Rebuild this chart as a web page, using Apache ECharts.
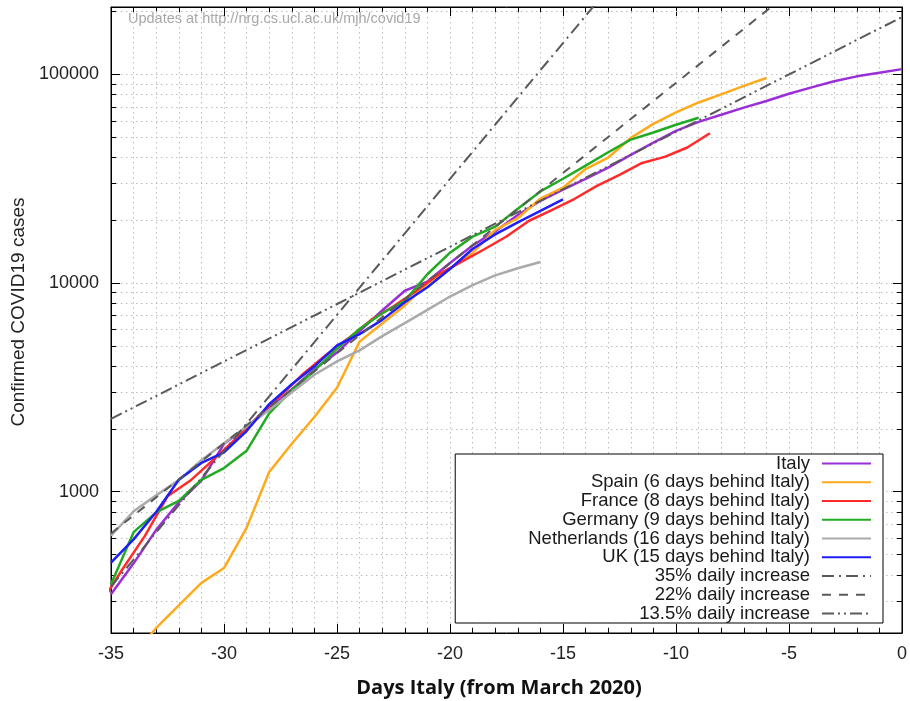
<!DOCTYPE html>
<html>
<head>
<meta charset="UTF-8" />
<title>COVID19 confirmed cases, days relative to Italy</title>
<script src="https://cdn.jsdelivr.net/npm/echarts@6/dist/echarts.min.js"></script>
<style>
html, body { margin: 0; padding: 0; background: #fff; }
</style>
</head>
<body>
<div id="chart" style="width: 910px; height: 701px;"></div>
<script>
// days relative to Italy (day 0 = end of March 2020)
var italyDays = [-35, -34, -33, -32, -31, -30, -29, -28, -27, -26, -25, -24, -23, -22, -21, -20, -19, -18, -17, -16, -15, -14, -13, -12, -11, -10, -9, -8, -7, -6, -5, -4, -3, -2, -1, 0];
var italy = [322, 453, 655, 888, 1128, 1694, 2036, 2502, 3089, 3858, 4636, 5883, 7375, 9172, 10149, 12462, 15113, 17660, 21157, 24747, 27980, 31506, 35713, 41035, 47021, 53578, 59138, 63927, 69176, 74386, 80589, 86498, 92472, 97689, 101739, 105792];

var spainDays = [-35, -34, -33, -32, -31, -30, -29, -28, -27, -26, -25, -24, -23, -22, -21, -20, -19, -18, -17, -16, -15, -14, -13, -12, -11, -10, -9, -8, -7, -6];
var spain = [120, 165, 222, 285, 365, 430, 670, 1240, 1695, 2277, 3146, 5232, 6391, 7798, 9942, 11748, 13910, 17963, 20410, 25374, 28603, 35136, 39885, 49515, 57786, 65719, 73235, 80110, 87956, 95923];

var franceDays = [-35.5, -34.5, -33.5, -32.5, -31.5, -30.5, -29.5, -28.5, -27.5, -26.5, -25.5, -24.5, -23.5, -22.5, -21.5, -20.5, -19.5, -18.5, -17.5, -16.5, -15.5, -14.5, -13.5, -12.5, -11.5, -10.5, -9.5, -8.5];
var france = [285, 423, 613, 949, 1126, 1412, 1784, 2281, 2876, 3661, 4499, 5423, 6633, 7730, 9134, 10995, 12612, 14459, 16689, 19856, 22302, 25233, 29155, 32964, 37575, 40174, 44550, 52128];

var germanyDays = [-35, -34, -33, -32, -31, -30, -29, -28, -27, -26, -25, -24, -23, -22, -21, -20, -19, -18, -17, -16, -15, -14, -13, -12, -11, -10, -9];
var germany = [360, 639, 795, 902, 1139, 1296, 1567, 2369, 3062, 3795, 4838, 6012, 7156, 8198, 10999, 13957, 16662, 18610, 22672, 27436, 31554, 36508, 42288, 48582, 52547, 57298, 61913];

var netherlandsDays = [-35, -34, -33, -32, -31, -30, -29, -28, -27, -26, -25, -24, -23, -22, -21, -20, -19, -18, -17, -16];
var netherlands = [614, 804, 959, 1135, 1413, 1705, 2051, 2460, 2994, 3631, 4204, 4749, 5560, 6412, 7431, 8603, 9762, 10866, 11750, 12595];

var ukDays = [-35, -34, -33, -32, -31, -30, -29, -28, -27, -26, -25, -24, -23, -22, -21, -20, -19, -18, -17, -16, -15];
var uk = [456, 590, 798, 1140, 1372, 1543, 1950, 2626, 3269, 3983, 5018, 5683, 6650, 8077, 9529, 11658, 14543, 17089, 19522, 22141, 25150];

// reference growth lines: start and end points
var growth35 = [[-35, 350], [-13, 257000]];
var growth22 = [[-35, 630], [-5, 245600]];
var growth135 = [[-35, 2230], [0, 188000]];

var yTickLabels = [1000, 10000, 100000];
var yMinorValues = [300, 400, 500, 600, 700, 800, 900, 2000, 3000, 4000, 5000, 6000, 7000, 8000, 9000,
  20000, 30000, 40000, 50000, 60000, 70000, 80000, 90000, 200000];

var font = "'Liberation Sans', Arial, sans-serif";
var gridLine = { color: "#bdbdbd", width: 1, type: [1.5, 3.5] };

function pairs(xs, ys) {
  return xs.map(function (x, i) { return [x, ys[i]]; });
}

var myChart = echarts.init(document.getElementById("chart"), null, { renderer: "canvas" });

function dataSeries(name, xs, ys, color) {
  return {
    name: name,
    type: "line",
    data: pairs(xs, ys),
    showSymbol: false,
    symbol: "none",
    lineStyle: { color: color, width: 2.5 },
    itemStyle: { color: color },
    emphasis: { disabled: true },
    z: 3
  };
}

function growthSeries(name, pts, dash) {
  return {
    name: name,
    type: "line",
    data: pts,
    showSymbol: false,
    symbol: "none",
    lineStyle: { color: "#5a5a5a", width: 2, type: dash },
    itemStyle: { color: "#5a5a5a" },
    emphasis: { disabled: true },
    z: 4
  };
}

var option = {
  animation: false,
  backgroundColor: "#fff",
  grid: {
    left: 111, right: 6, top: 7, bottom: 68,
    show: true, borderColor: "#000", borderWidth: 1, backgroundColor: "transparent"
  },
  xAxis: [
    {
      type: "value", min: -35, max: 0, interval: 5,
      axisLine: { show: true, onZero: false, lineStyle: { color: "#000" } },
      axisTick: { show: true, inside: true, length: 9, lineStyle: { color: "#000" } },
      minorTick: { show: true, splitNumber: 5, length: 5, lineStyle: { color: "#000" } },
      splitLine: { show: true, lineStyle: gridLine },
      minorSplitLine: { show: true, lineStyle: gridLine },
      axisLabel: { fontSize: 18, color: "#222", margin: 12, fontFamily: font }
    },
    {
      type: "value", position: "top", min: -35, max: 0, interval: 5,
      axisLine: { show: true, onZero: false, lineStyle: { color: "#000" } },
      axisTick: { show: true, inside: true, length: 9, lineStyle: { color: "#000" } },
      minorTick: { show: true, splitNumber: 5, length: 5, lineStyle: { color: "#000" } },
      splitLine: { show: false },
      axisLabel: { show: false }
    }
  ],
  yAxis: [
    {
      type: "log", logBase: 10, min: 210, max: 210000,
      axisLine: { show: true, onZero: false, lineStyle: { color: "#000" } },
      axisTick: { show: true, inside: true, length: 9, lineStyle: { color: "#000" } },
      splitLine: { show: true, lineStyle: gridLine },
      axisLabel: {
        fontSize: 18, color: "#222", margin: 12, fontFamily: font,
        showMinLabel: false, showMaxLabel: false,
        formatter: function (v) {
          var r = Math.round(v);
          return yTickLabels.indexOf(r) >= 0 ? String(r) : "";
        }
      }
    },
    {
      type: "log", logBase: 10, min: 210, max: 210000, position: "right",
      axisLine: { show: true, onZero: false, lineStyle: { color: "#000" } },
      axisTick: { show: true, inside: true, length: 9, lineStyle: { color: "#000" } },
      splitLine: { show: false },
      axisLabel: { show: false }
    }
  ],
  legend: {
    data: ["Italy", "Spain (6 days behind Italy)", "France (8 days behind Italy)",
      "Germany (9 days behind Italy)", "Netherlands (16 days behind Italy)", "UK (15 days behind Italy)",
      "35% daily increase", "22% daily increase", "13.5% daily increase"],
    orient: "vertical",
    align: "right",
    right: 27,
    top: 454,
    padding: [0, 11, 0, 73],
    itemWidth: 49,
    itemHeight: 10,
    itemGap: -0.25,
    backgroundColor: "#fff",
    borderColor: "#000",
    borderWidth: 1,
    borderRadius: 0,
    selectedMode: false,
    inactiveColor: "#222",
    itemStyle: { color: "rgba(0,0,0,0)", borderColor: "rgba(0,0,0,0)", borderWidth: 0, opacity: 0 },
    textStyle: { fontSize: 18.5, color: "#1a1a1a", fontFamily: font, lineHeight: 18, padding: [0, 7, 0, 0] }
  },
  graphic: [
    {
      type: "text", left: 128, top: 11,
      style: { text: "Updates at http://nrg.cs.ucl.ac.uk/mjh/covid19", fill: "#a8a8a8", font: "14.5px " + font }
    },
    {
      type: "text", x: 19, y: 312, rotation: Math.PI / 2,
      style: { text: "Confirmed COVID19 cases", fill: "#222", font: "19px " + font, align: "center", verticalAlign: "middle" }
    },
    {
      type: "text", x: 499, y: 688,
      style: { text: "Days Italy (from March 2020)", fill: "#111", font: "bold 20px 'Open Sans', sans-serif", align: "center", verticalAlign: "middle" }
    }
  ],
  series: [
    {
      // dotted minor grid lines and minor ticks on the log axis
      name: "minor grid",
      type: "custom",
      silent: true,
      z: 1,
      data: yMinorValues.map(function (v) { return [-35, v]; }),
      renderItem: function (params, api) {
        var v = api.value(1);
        var p0 = api.coord([-35, v]);
        var p1 = api.coord([0, v]);
        var y = Math.round(p0[1]) + 0.5;
        return {
          type: "group",
          children: [
            { type: "line", shape: { x1: p0[0], y1: y, x2: p1[0], y2: y }, style: { stroke: "#bdbdbd", lineWidth: 1, lineDash: [1.5, 3.5] } },
            { type: "line", shape: { x1: p0[0], y1: y, x2: p0[0] + 5, y2: y }, style: { stroke: "#000", lineWidth: 1 } },
            { type: "line", shape: { x1: p1[0] - 5, y1: y, x2: p1[0], y2: y }, style: { stroke: "#000", lineWidth: 1 } }
          ]
        };
      }
    },
    dataSeries("Italy", italyDays, italy, "#9a2fd8"),
    dataSeries("Spain (6 days behind Italy)", spainDays, spain, "#ffaa1d"),
    dataSeries("France (8 days behind Italy)", franceDays, france, "#ff2a2a"),
    dataSeries("Germany (9 days behind Italy)", germanyDays, germany, "#22aa22"),
    dataSeries("Netherlands (16 days behind Italy)", netherlandsDays, netherlands, "#aaaaaa"),
    dataSeries("UK (15 days behind Italy)", ukDays, uk, "#1f1ff5"),
    growthSeries("35% daily increase", growth35, [12, 5, 2, 5]),
    growthSeries("22% daily increase", growth22, [9, 8]),
    growthSeries("13.5% daily increase", growth135, [12, 4, 2, 4, 2, 4])
  ]
};

myChart.setOption(option);
</script>
</body>
</html>
